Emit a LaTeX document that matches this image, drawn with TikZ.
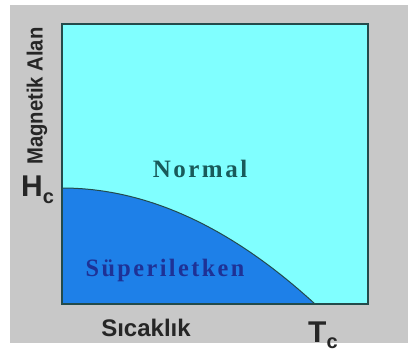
\documentclass[tikz,border=0pt]{standalone}
\usepackage{fontspec}
\setmainfont{Liberation Serif}
\newfontfamily\arialfont{Liberation Sans}
\newfontfamily\spacedserif[LetterSpace=10]{Liberation Serif}
\usetikzlibrary{positioning}

\definecolor{panelgray}{RGB}{200,200,200}
\definecolor{normalcyan}{RGB}{128,255,255}
\definecolor{superblue}{RGB}{30,128,232}
\definecolor{framedark}{RGB}{35,75,75}
\definecolor{normaltext}{RGB}{25,90,90}
\definecolor{supertext}{RGB}{30,50,150}

\begin{document}
\begin{tikzpicture}[x=1pt, y=-1pt,
    axislabel/.style={font=\arialfont\bfseries\fontsize{24}{24}\selectfont, text=black!85, inner sep=0pt},
    critlabel/.style={font=\arialfont\bfseries\fontsize{30}{30}\selectfont, text=black!85, inner sep=0pt},
    phaselabel/.style={font=\spacedserif\bfseries\fontsize{25}{25}\selectfont, inner sep=0pt}]
  \useasboundingbox (0,0) rectangle (414,358);
  \fill[white] (0,0) rectangle (414,358);
  \fill[panelgray] (10,5) rectangle (408,343);
  % phase diagram
  \fill[normalcyan] (62,24) rectangle (368,304);
  \fill[superblue] plot[domain=0:1, samples=50] ({62+253*\x},{188+116*\x*\x}) -- (62,304) -- cycle;
  \draw[framedark, line width=1pt] plot[domain=0:1, samples=50] ({62+253*\x},{188+116*\x*\x});
  \draw[framedark, line width=1.8pt] (62,24) rectangle (368,304);
  % labels
  \node[phaselabel, text=normaltext] (normal) at (200,169) {Normal};
  \node[phaselabel, text=supertext, xscale=0.97] (super) at (165,270) {Süperiletken};
  \node[axislabel, font=\arialfont\bfseries\fontsize{22}{22}\selectfont, rotate=90, xscale=0.92] (field) at (37,96) {Magnetik Alan};
  \node[axislabel] (temp) at (146,328) {Sıcaklık};
  \node[critlabel, anchor=base west] (hc) at (21,196) {H\raisebox{-0.5ex}{\fontsize{20}{20}\selectfont c}};
  \node[critlabel, anchor=base west] (tc) at (308,342) {T\raisebox{-0.4ex}{\fontsize{20}{20}\selectfont c}};
\end{tikzpicture}
\end{document}
